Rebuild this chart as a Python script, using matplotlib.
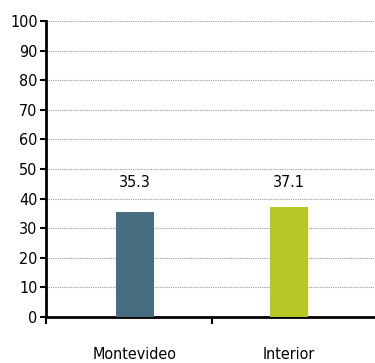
import matplotlib
matplotlib.use("Agg")
import matplotlib.pyplot as plt
from matplotlib import font_manager

categories = ["Montevideo", "Interior"]
values = [35.3, 37.1]
colors = ["#476e80", "#b8c626"]
yticks = [0, 10, 20, 30, 40, 50, 60, 70, 80, 90, 100]

entries = font_manager.fontManager.ttflist
names = {f.name for f in entries}
if "Liberation Sans Narrow" in names:
    plt.rcParams["font.family"] = ["Liberation Sans Narrow", "DejaVu Sans"]
    fs = 12.5
elif any(f.name == "DejaVu Sans" and f.stretch == "condensed" for f in entries):
    plt.rcParams["font.family"] = ["DejaVu Sans"]
    plt.rcParams["font.stretch"] = "condensed"
    fs = 11.5
else:
    plt.rcParams["font.family"] = ["Liberation Sans", "DejaVu Sans"]
    fs = 11.5

fig = plt.figure(figsize=(3.75, 3.63), dpi=100)
ax = fig.add_axes([0.1227, 0.127, 0.8773, 0.815])

x = list(range(len(categories)))
ax.bar(x, values, width=0.247, color=colors, zorder=3)
label_y = max(values)
for xi, v in zip(x, values):
    ax.annotate(f"{v:.1f}", (xi, label_y), xytext=(0, 12), textcoords="offset points",
                ha="center", va="bottom", fontsize=fs)

xlo, xhi = -0.578, 1.558
ax.set_xlim(xlo, xhi)
ax.set_ylim(0, 100)
ax.set_yticks(yticks)
ax.set_yticklabels([str(t) for t in yticks], fontsize=fs)
ax.yaxis.grid(True, linestyle=(0, (1, 1)), color="#999999", linewidth=0.8, zorder=0)
ax.set_xticks(x)
ax.set_xticklabels(categories, fontsize=fs)
ax.tick_params(axis="x", which="major", length=0, pad=22)
ax.set_xticks([xlo, 0.5], minor=True)
ax.tick_params(axis="x", which="minor", length=5, width=1.5, direction="out")
ax.tick_params(axis="y", length=4, width=1.5, pad=2)

for s in ["top", "right"]:
    ax.spines[s].set_visible(False)
for s in ["left", "bottom"]:
    ax.spines[s].set_linewidth(2)
    ax.spines[s].set_color("black")

fig.savefig("out.png", dpi=100)
